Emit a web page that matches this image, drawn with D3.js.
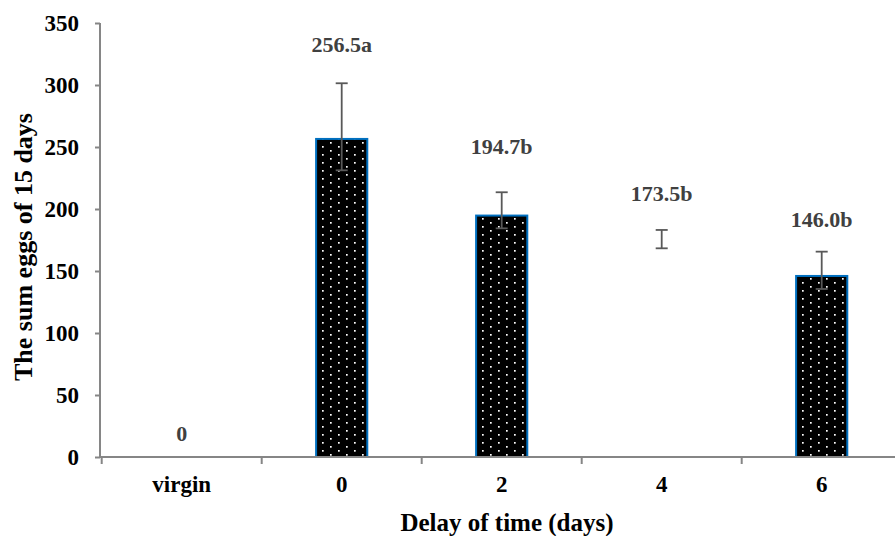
<!DOCTYPE html>
<html>
<head>
<meta charset="utf-8">
<script src="https://cdn.jsdelivr.net/npm/d3@7"></script>
<style>
  body { margin: 0; background: #fff; }
  svg { display: block; font-family: "Liberation Serif", "Times New Roman", serif; font-weight: bold; }
</style>
</head>
<body>
<svg id="chart" width="895" height="536"></svg>
<script>
// chart data
const categories = ["virgin", "0", "2", "4", "6"]
const eggs = [0, 256.5, 194.7, 173.5, 146.0]
const errUp = [0, 44.9, 18.8, 9.6, 19.6]
const errDown = [0, 25.3, 10.3, 5.2, 10.5]
const letters = ["", "a", "b", "b", "b"]
// height (in eggs) where each label was placed
const labelAt = [19.4, 333.1, 250.8, 212.9, 192.0]
const yTicks = [0, 50, 100, 150, 200, 250, 300, 350]

const svg = d3.select("#chart")
const axisColor = "#868686"

// scales
const x = d3.scaleBand()
  .domain(categories)
  .range([101.7, 901.7])
  .paddingInner(0.68)
  .paddingOuter(0.34)

const y = d3.scaleLinear()
  .domain([0, 350])
  .range([457, 23])

// dotted fill like the excel pattern
const defs = svg.append("defs")
const pat = defs.append("pattern")
  .attr("id", "dots")
  .attr("patternUnits", "userSpaceOnUse")
  .attr("width", 16)
  .attr("height", 8)
pat.append("rect").attr("width", 16).attr("height", 8).attr("fill", "#000")
pat.append("rect").attr("x", 2).attr("y", 2).attr("width", 1.7).attr("height", 1.7).attr("fill", "#fff")
pat.append("rect").attr("x", 10).attr("y", 6).attr("width", 1.7).attr("height", 1.7).attr("fill", "#fff")

const rows = categories.map((c, i) => ({
  cat: c, v: eggs[i], up: errUp[i], down: errDown[i],
  text: (i === 0 ? "0" : eggs[i].toFixed(1)) + letters[i],
  at: labelAt[i]
}))

// bars (the "4" bar has no fill in the original)
svg.append("g").selectAll("rect")
  .data(rows)
  .join("rect")
  .attr("x", d => x(d.cat))
  .attr("y", d => y(d.v))
  .attr("width", x.bandwidth())
  .attr("height", d => y(0) - y(d.v))
  .attr("fill", d => d.cat === "4" ? "none" : "url(#dots)")
  .attr("stroke", d => d.cat === "4" ? "none" : "#0070c0")
  .attr("stroke-width", 2)

// error bars
const eb = svg.append("g")
  .attr("stroke", "#595959")
  .attr("stroke-width", 1.8)
  .selectAll("g")
  .data(rows.filter(d => d.up > 0))
  .join("g")
  .attr("transform", d => `translate(${x(d.cat) + x.bandwidth() / 2},0)`)
eb.append("line")
  .attr("y1", d => y(d.v + d.up))
  .attr("y2", d => y(d.v - d.down))
eb.append("line")
  .attr("x1", -6).attr("x2", 6)
  .attr("y1", d => y(d.v + d.up)).attr("y2", d => y(d.v + d.up))
eb.append("line")
  .attr("x1", -6).attr("x2", 6)
  .attr("y1", d => y(d.v - d.down)).attr("y2", d => y(d.v - d.down))

// value labels
svg.append("g").selectAll("text")
  .data(rows)
  .join("text")
  .attr("x", d => x(d.cat) + x.bandwidth() / 2)
  .attr("y", d => y(d.at))
  .attr("dy", "0.35em")
  .attr("text-anchor", "middle")
  .attr("fill", "#404040")
  .attr("font-size", "22px")
  .text(d => d.text)

// y axis
const yAxis = svg.append("g")
  .attr("transform", "translate(100,0)")
  .call(d3.axisLeft(y).tickValues(yTicks).tickSize(5).tickPadding(16))
yAxis.selectAll("line, path").attr("stroke", axisColor).attr("stroke-width", 2)
yAxis.select(".domain").attr("d", `M0,${y(350)}V${y(0)}`)
yAxis.selectAll("text")
  .attr("fill", "#000")
  .attr("font-size", "23px")
  .attr("font-family", "Liberation Serif, serif")
  .attr("font-weight", "bold")

// x axis with ticks between categories
const xAxis = svg.append("g")
  .attr("transform", `translate(0,${y(0)})`)
xAxis.append("line")
  .attr("x1", 100).attr("x2", 902)
  .attr("stroke", axisColor).attr("stroke-width", 2)
const step = x.step()
const edges = categories.map(c => x(c) - x.paddingInner() * step / 2)
edges.push(edges[edges.length - 1] + step)
xAxis.selectAll(".tk")
  .data(edges)
  .join("line")
  .attr("class", "tk")
  .attr("x1", d => d).attr("x2", d => d)
  .attr("y1", 0).attr("y2", 7)
  .attr("stroke", axisColor).attr("stroke-width", 2)
xAxis.selectAll(".lbl")
  .data(categories)
  .join("text")
  .attr("class", "lbl")
  .attr("x", d => x(d) + x.bandwidth() / 2)
  .attr("y", 27)
  .attr("dy", "0.35em")
  .attr("text-anchor", "middle")
  .attr("font-size", "23px")
  .text(d => d)

// axis titles
svg.append("text")
  .attr("x", 507)
  .attr("y", 522)
  .attr("dy", "0.35em")
  .attr("text-anchor", "middle")
  .attr("font-size", "25px")
  .text("Delay of time (days)")

svg.append("text")
  .attr("transform", "translate(23,247) rotate(-90)")
  .attr("dy", "0.35em")
  .attr("text-anchor", "middle")
  .attr("font-size", "26px")
  .text("The sum eggs of 15 days")
</script>
</body>
</html>
